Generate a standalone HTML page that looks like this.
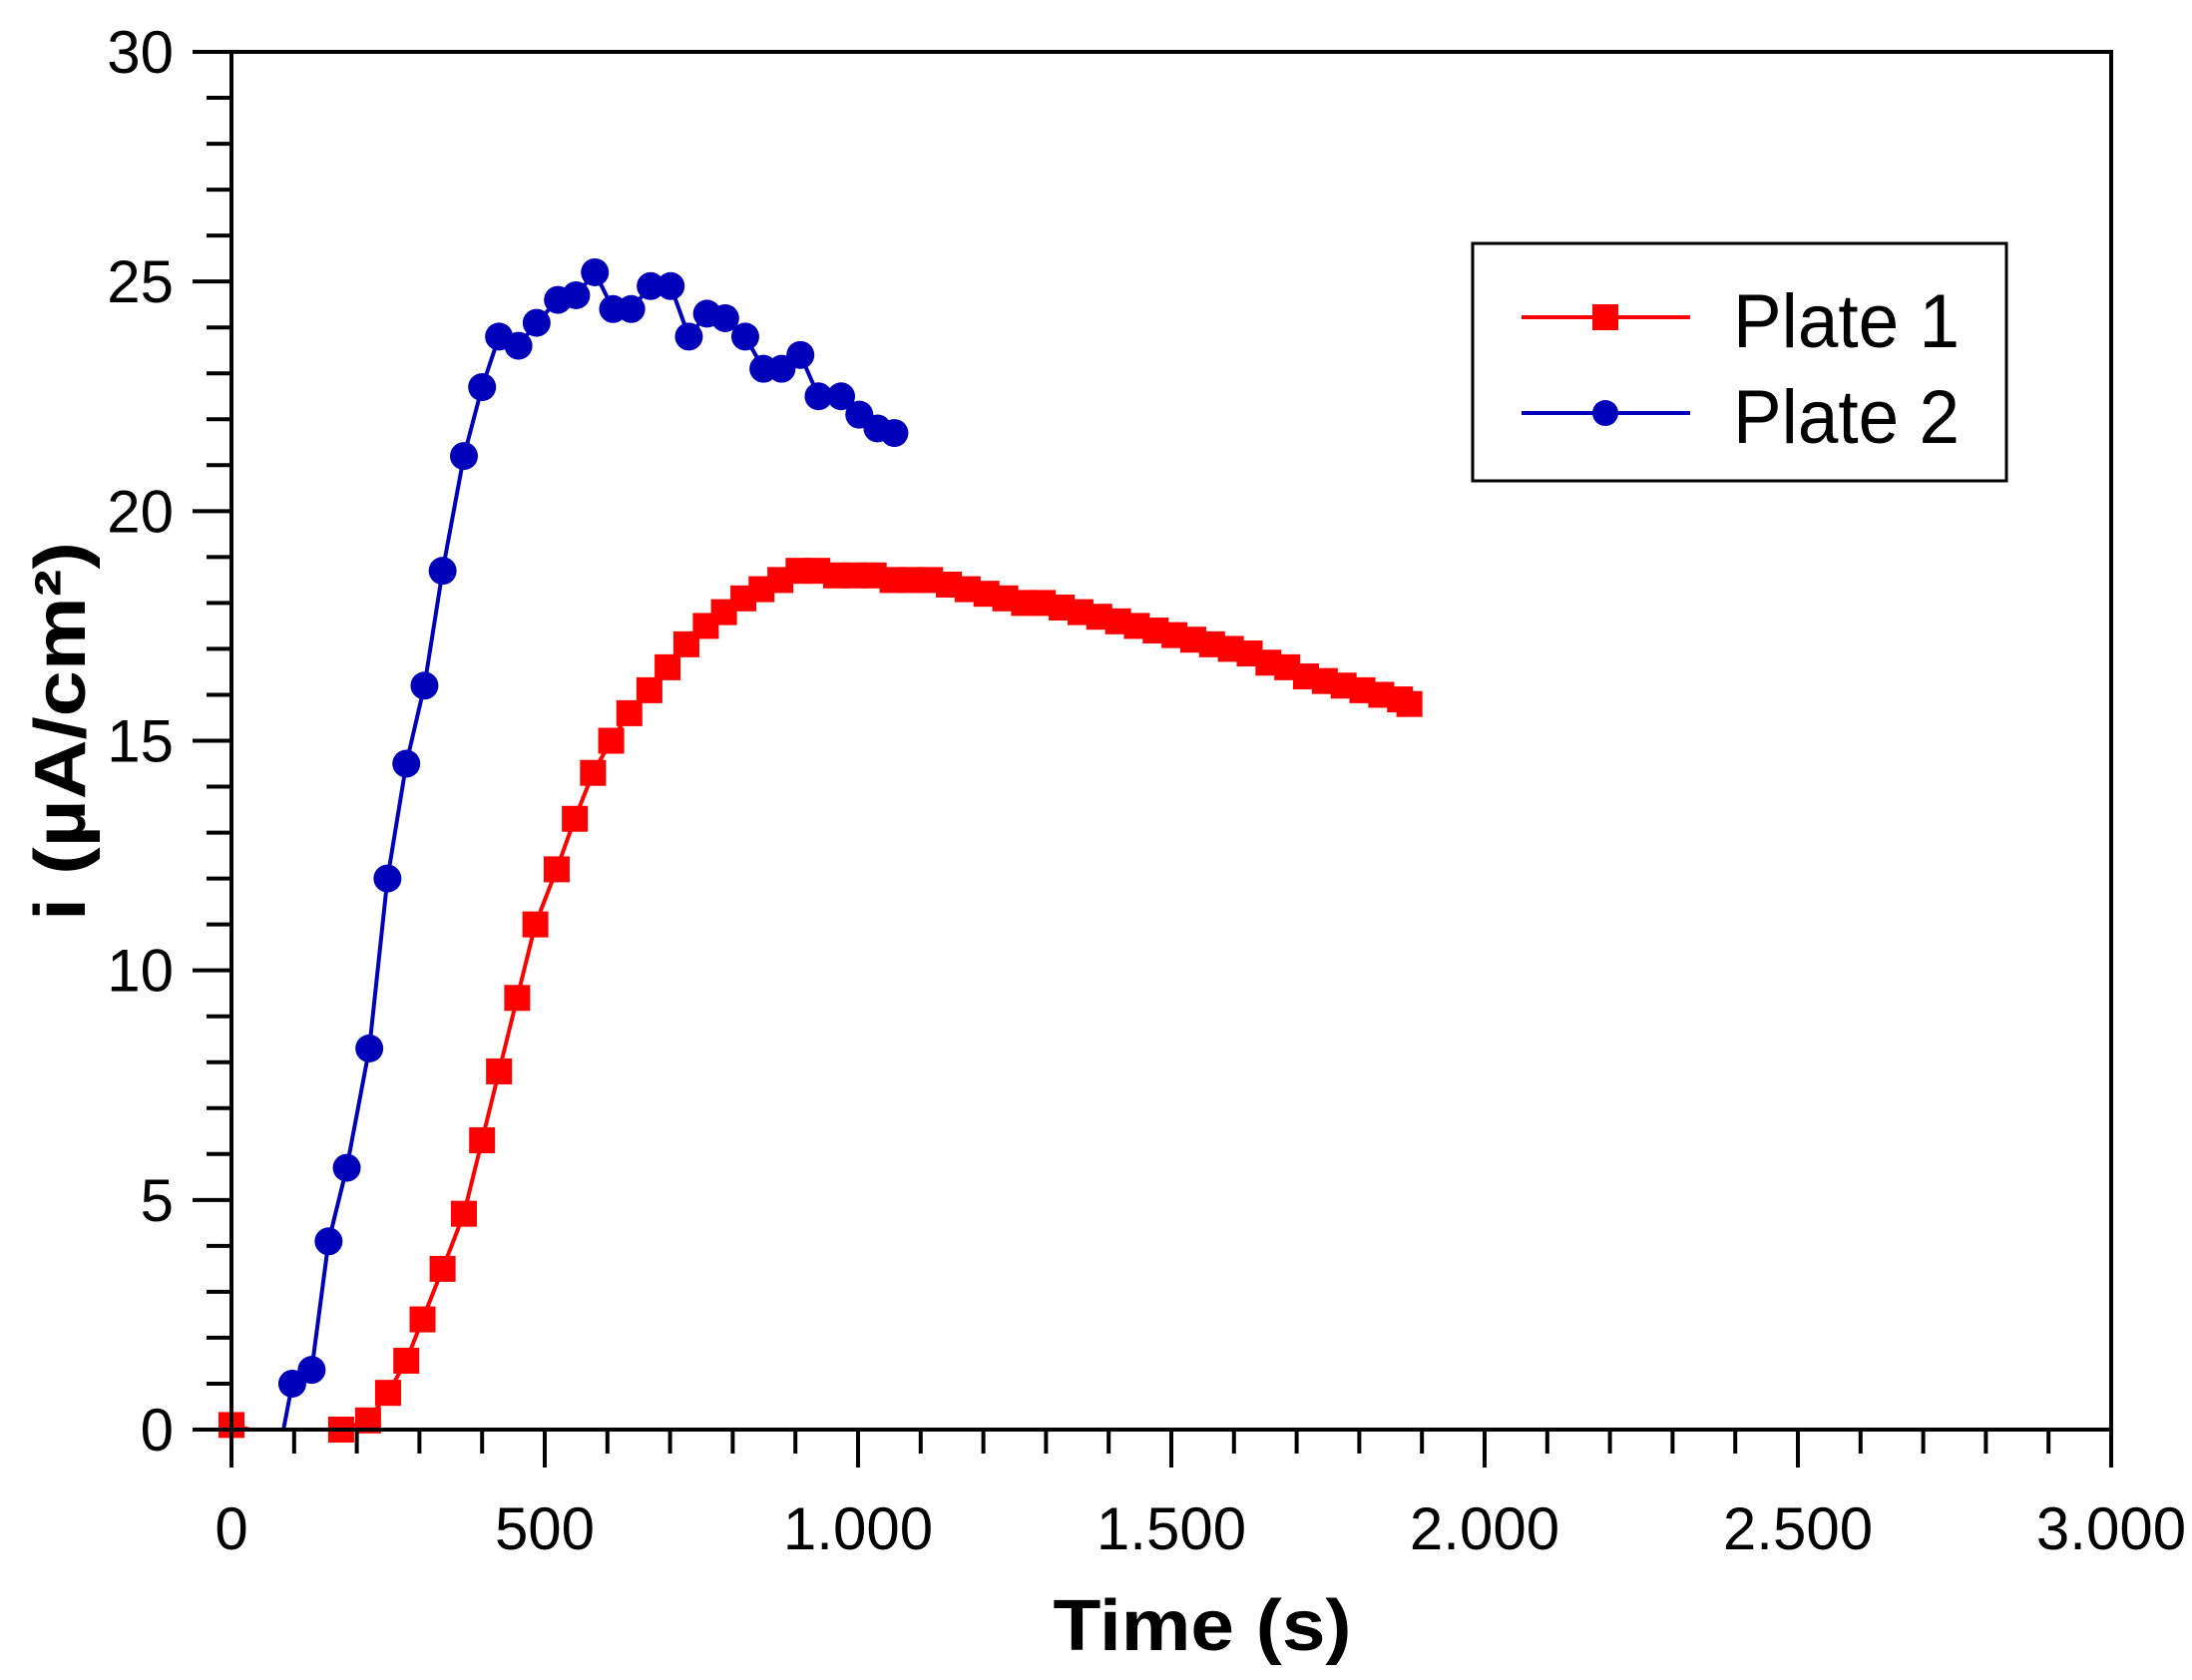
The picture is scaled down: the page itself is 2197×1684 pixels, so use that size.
<!DOCTYPE html>
<html><head><meta charset="utf-8"><style>
html,body{margin:0;padding:0;background:#fff;}
svg{display:block;font-family:"Liberation Sans",Arial,sans-serif;}
</style></head><body>
<svg id="chart" width="2197" height="1684" viewBox="0 0 2197 1684" xmlns="http://www.w3.org/2000/svg">
<rect x="0" y="0" width="2197" height="1684" fill="#fff"/>
<g id="plot"></g>
<g id="axes"></g>
<text x="1205" y="1654" font-size="72" font-weight="bold" text-anchor="middle" textLength="299" lengthAdjust="spacingAndGlyphs">Time (s)</text>
<text transform="translate(85,733) rotate(-90)" font-size="72" font-weight="bold" text-anchor="middle" textLength="380" lengthAdjust="spacingAndGlyphs">i (µA/cm²)</text>
<g>
<rect x="1476" y="244" width="535" height="238" fill="#fff" stroke="#000" stroke-width="3"/>
<line x1="1525" y1="318" x2="1694" y2="318" stroke="#f00" stroke-width="4"/>
<rect x="1596" y="305" width="26" height="26" fill="#f00"/>
<text x="1737" y="348" font-size="76" textLength="227" lengthAdjust="spacingAndGlyphs">Plate 1</text>
<line x1="1525" y1="414" x2="1694" y2="414" stroke="#0000bb" stroke-width="4"/>
<circle cx="1609" cy="414" r="13" fill="#0000bb"/>
<text x="1737" y="444" font-size="76" textLength="227" lengthAdjust="spacingAndGlyphs">Plate 2</text>
</g>
</svg>
<script>
const xTicks = [0, 500, 1000, 1500, 2000, 2500, 3000];
const xTickLabels = ["0", "500", "1.000", "1.500", "2.000", "2.500", "3.000"];
const yTicks = [0, 5, 10, 15, 20, 25, 30];
const yTickLabels = ["0", "5", "10", "15", "20", "25", "30"];
const plate1X = [0,30,60,90,120,150,175,218,250,279,305,337,371,400,427,456,485,519,548,577,606,635,667,696,726,757,786,817,846,876,905,935,965,995,1025,1055,1085,1115,1145,1175,1205,1235,1265,1295,1325,1355,1385,1415,1445,1475,1505,1535,1565,1595,1625,1655,1685,1715,1745,1775,1805,1835,1865,1880];
const plate1Y = [0.1,0,0,0,0,0,0,0.2,0.8,1.5,2.4,3.5,4.7,6.3,7.8,9.4,11.0,12.2,13.3,14.3,15.0,15.6,16.1,16.6,17.1,17.5,17.8,18.1,18.3,18.5,18.7,18.7,18.6,18.6,18.6,18.5,18.5,18.5,18.4,18.3,18.2,18.1,18.0,18.0,17.9,17.8,17.7,17.6,17.5,17.4,17.3,17.2,17.1,17.0,16.9,16.7,16.6,16.4,16.3,16.2,16.1,16.0,15.9,15.8];
const plate1Markers = [0,6,7,8,9,10,11,12,13,14,15,16,17,18,19,20,21,22,23,24,25,26,27,28,29,30,31,32,33,34,35,36,37,38,39,40,41,42,43,44,45,46,47,48,49,50,51,52,53,54,55,56,57,58,59,60,61,62,63];
const plate2X = [83,97,128,155,184,220,249,279,308,337,371,400,427,458,487,521,550,580,609,638,669,701,730,759,788,820,849,878,908,937,973,1002,1031,1058];
const plate2Y = [0,1.0,1.3,4.1,5.7,8.3,12.0,14.5,16.2,18.7,21.2,22.7,23.8,23.6,24.1,24.6,24.7,25.2,24.4,24.4,24.9,24.9,23.8,24.3,24.2,23.8,23.1,23.1,23.4,22.5,22.5,22.1,21.8,21.7];

const X0 = 232, X1 = 2116, Y0 = 1433, Y1 = 52;
const xs = v => X0 + (v / 3000) * (X1 - X0);
const ys = v => Y0 - (v / 30) * (Y0 - Y1);
const NS = "http://www.w3.org/2000/svg";
const plot = document.getElementById('plot');
const axes = document.getElementById('axes');
function mk(tag, attrs, parent) {
  const e = document.createElementNS(NS, tag);
  for (const k in attrs) e.setAttribute(k, attrs[k]);
  parent.appendChild(e);
  return e;
}

let fr = mk('rect', {x: X0, y: Y1, width: X1 - X0, height: Y0 - Y1, fill: 'none', stroke: '#000', 'stroke-width': 4}, axes);



for (let v = 0; v <= 3000; v += 100) {
  const major = v % 500 === 0;
  const t = mk('line', {x1: xs(v), x2: xs(v), y1: Y0, y2: Y0 + (major ? 38 : 24), stroke: '#000', 'stroke-width': 4}, axes);
  
  
}
xTicks.forEach((v, i) => {
  const t = mk('text', {x: xs(v), y: 1553, 'font-size': 60, 'text-anchor': 'middle'}, axes);
  t.textContent = xTickLabels[i];
  
  
});
for (let v = 0; v <= 30; v += 1) {
  const major = v % 5 === 0;
  const t = mk('line', {x1: X0 - (major ? 39 : 25), x2: X0, y1: ys(v), y2: ys(v), stroke: '#000', 'stroke-width': 4}, axes);
  
  
}
yTicks.forEach((v, i) => {
  const t = mk('text', {x: 174, y: ys(v) + 21, 'font-size': 60, 'text-anchor': 'end'}, axes);
  t.textContent = yTickLabels[i];
  
  
});

const p1 = mk('polyline', {points: plate1X.map((x, i) => xs(x) + ',' + ys(plate1Y[i])).join(' '), fill: 'none', stroke: '#f00', 'stroke-width': 4}, plot);


plate1Markers.forEach(i => {
  const r = mk('rect', {x: xs(plate1X[i]) - 13, y: ys(plate1Y[i]) - 13, width: 26, height: 26, fill: '#f00'}, plot);
  
  
});
const p2 = mk('polyline', {points: plate2X.map((x, i) => xs(x) + ',' + ys(plate2Y[i])).join(' '), fill: 'none', stroke: '#0000bb', 'stroke-width': 4}, plot);


plate2X.forEach((x, i) => {
  if (i === 0) return;
  const c = mk('circle', {cx: xs(x), cy: ys(plate2Y[i]), r: 14, fill: '#0000bb'}, plot);
  
  
});
</script>
</body></html>
